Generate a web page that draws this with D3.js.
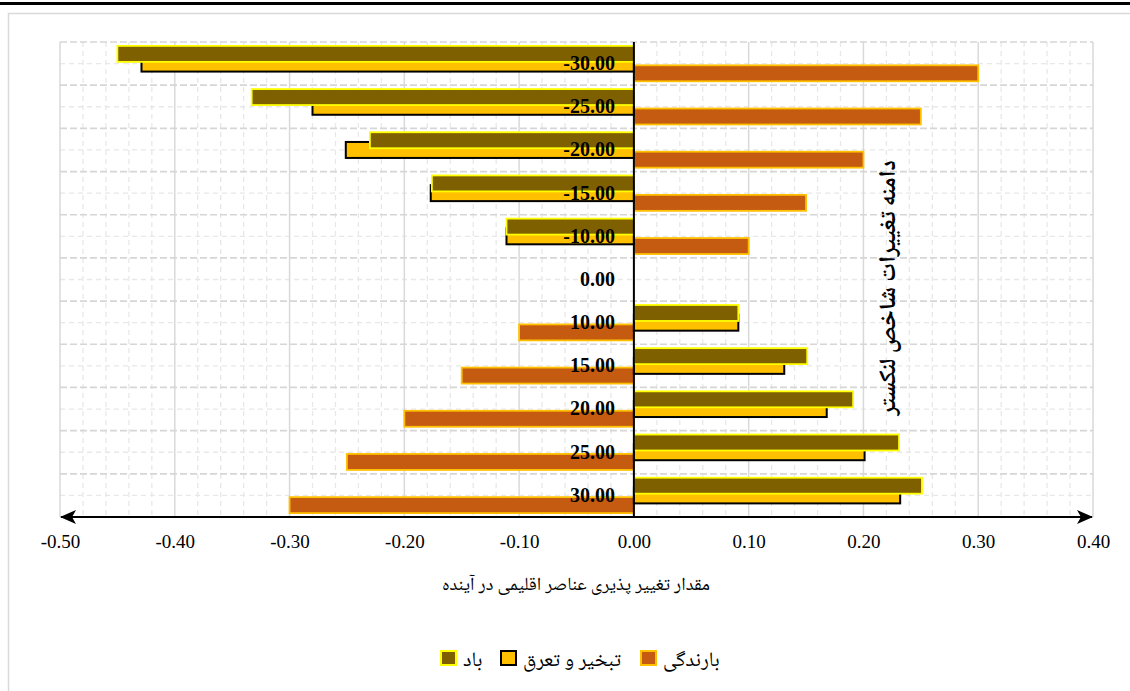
<!DOCTYPE html>
<html><head><meta charset="utf-8">
<script src="https://cdn.jsdelivr.net/npm/d3@7"></script>
<style>
html,body{margin:0;padding:0;background:#fff;}
svg{display:block;}
.fa{font-family:"Noto Naskh Arabic","Noto Sans Arabic","DejaVu Sans",sans-serif;}
</style></head>
<body>
<svg id="chart" width="1130" height="691"></svg>
<script>
// ---- data ----
const categories = ["-30.00","-25.00","-20.00","-15.00","-10.00","0.00","10.00","15.00","20.00","25.00","30.00"];
const seriesNames = ["باد","تبخیر و تعرق","بارندگی"];
const windValues = [-0.45,-0.333,-0.23,-0.176,-0.111,0,0.091,0.151,0.191,0.231,0.251];
const evapValues = [-0.429,-0.28,-0.251,-0.177,-0.111,0,0.091,0.131,0.168,0.201,0.232];
const rainValues = [0.30,0.25,0.20,0.15,0.10,0,-0.10,-0.15,-0.20,-0.25,-0.30];
const xTickValues = [-0.5,-0.4,-0.3,-0.2,-0.1,0,0.1,0.2,0.3,0.4];
const xTickLabels = ["-0.50","-0.40","-0.30","-0.20","-0.10","0.00","0.10","0.20","0.30","0.40"];
const xTitle = "مقدار تغییر پذیری عناصر اقلیمی در آینده";
const yTitle = "دامنه تغییرات شاخص لنکستر";

// ---- styles ----
const fills = ["#7F6000","#FFC000","#C55A11"];
const strokes = ["#FFFF00","#000000","#FFC000"];

const svg = d3.select("#chart");
const L = 60, R = 1093, T = 42, B = 517;

const x = d3.scaleLinear().domain([-0.5,0.4]).range([L,R]);
const y = d3.scaleBand().domain(categories).range([T,B]).padding(0);
const bw = y.bandwidth();
const barH = bw*0.37;
const sOff = d3.scaleLinear().domain([0,1]).range([bw*0.09, bw*0.09 + bw*0.225]);

// outer frame
svg.append("line").attr("x1",0).attr("x2",1130).attr("y1",3.5).attr("y2",3.5)
  .attr("stroke","#000").attr("stroke-width",3);
svg.append("rect").attr("x",8.5).attr("y",13.5).attr("width",1140).attr("height",700)
  .attr("fill","#fff").attr("stroke","#d9d9d9").attr("stroke-width",1.5);

const grid = svg.append("g");
// minor vertical
const minorX = d3.range(-50,41,2).map(d=>d/100).filter(d=>Math.round(d*100)%10!==0);
grid.selectAll(".mv").data(minorX).join("line")
  .attr("x1",d=>x(d)).attr("x2",d=>x(d)).attr("y1",T).attr("y2",B)
  .attr("stroke","#e8e8e8").attr("stroke-width",1.3).attr("stroke-dasharray","5,4");
// minor horizontal (band middles)
grid.selectAll(".mh").data(categories).join("line")
  .attr("x1",L).attr("x2",R).attr("y1",d=>y(d)+bw/2).attr("y2",d=>y(d)+bw/2)
  .attr("stroke","#e8e8e8").attr("stroke-width",1.3).attr("stroke-dasharray","5,4");
// major vertical
grid.selectAll(".Mv").data(xTickValues).join("line")
  .attr("x1",d=>x(d)).attr("x2",d=>x(d)).attr("y1",T).attr("y2",B)
  .attr("stroke","#d9d9d9").attr("stroke-width",1.5);
// major horizontal (band boundaries)
grid.selectAll(".Mh").data(categories).join("line")
  .attr("x1",L).attr("x2",R).attr("y1",d=>y(d)).attr("y2",d=>y(d))
  .attr("stroke","#d6d6d6").attr("stroke-width",1.7).attr("stroke-dasharray","7,3");

// bars
const series = [windValues, evapValues, rainValues];
const drawOrder = [2,1,0];
drawOrder.forEach(si=>{
  const data = categories.map((c,i)=>({c, v: series[si][i]})).filter(d=>d.v!==0);
  svg.append("g").selectAll("rect").data(data).join("rect")
    .attr("x",d=>Math.min(x(0),x(d.v)))
    .attr("width",d=>Math.abs(x(d.v)-x(0)))
    .attr("y",d=>y(d.c)+sOff(si))
    .attr("height",barH)
    .attr("fill",fills[si]).attr("stroke",strokes[si])
    .attr("stroke-width", si===1 ? 2 : 1.8);
});

// zero line
svg.append("line").attr("x1",x(0)).attr("x2",x(0)).attr("y1",T).attr("y2",B)
  .attr("stroke","#000").attr("stroke-width",2);

// category axis
const yAxis = svg.append("g").attr("transform",`translate(${x(0)},0)`)
  .call(d3.axisLeft(y).tickSize(0).tickPadding(19));
yAxis.select(".domain").remove();
yAxis.selectAll("text").attr("font-family","'Liberation Serif','Times New Roman',serif")
  .attr("font-size",20).attr("font-weight","bold").attr("fill","#000");

// x axis labels
const xAxis = svg.append("g").attr("transform",`translate(0,${B})`)
  .call(d3.axisBottom(x).tickValues(xTickValues).tickSize(0).tickPadding(18)
    .tickFormat((d,i)=>xTickLabels[i]));
xAxis.select(".domain").remove();
xAxis.selectAll("text").attr("font-family","'Liberation Serif','Times New Roman',serif")
  .attr("font-size",19).attr("fill","#000");

// x axis line with arrows
const defs = svg.append("defs");
defs.append("marker").attr("id","arr").attr("viewBox","0 0 16 14").attr("refX",15).attr("refY",7)
  .attr("markerWidth",16).attr("markerHeight",14).attr("markerUnits","userSpaceOnUse")
  .attr("orient","auto-start-reverse")
  .append("path").attr("d","M0,0 L16,7 L0,14 L4,7 Z").attr("fill","#000");
svg.append("line").attr("x1",L+1).attr("x2",R-1).attr("y1",B).attr("y2",B)
  .attr("stroke","#000").attr("stroke-width",2)
  .attr("marker-start","url(#arr)").attr("marker-end","url(#arr)");

// titles
svg.append("text").attr("class","fa").attr("x",576).attr("y",590)
  .attr("text-anchor","middle").attr("font-size",18.5).attr("fill","#000").text(xTitle);
svg.append("text").attr("class","fa")
  .attr("transform","translate(895,288) rotate(-90)")
  .attr("text-anchor","middle").attr("font-size",23.5).attr("font-weight","bold")
  .attr("fill","#000").text(yTitle);

// legend
const legendX = [441,501,641];
const lg = svg.append("g");
seriesNames.forEach((n,i)=>{
  lg.append("rect").attr("x",legendX[i]).attr("y",651).attr("width",15).attr("height",14)
    .attr("fill",fills[i]).attr("stroke",strokes[i]).attr("stroke-width",2);
  lg.append("text").attr("class","fa").attr("x",legendX[i]+22).attr("y",666)
    .attr("font-size",20.5).attr("fill","#000").text(n);
});
</script>
</body></html>
